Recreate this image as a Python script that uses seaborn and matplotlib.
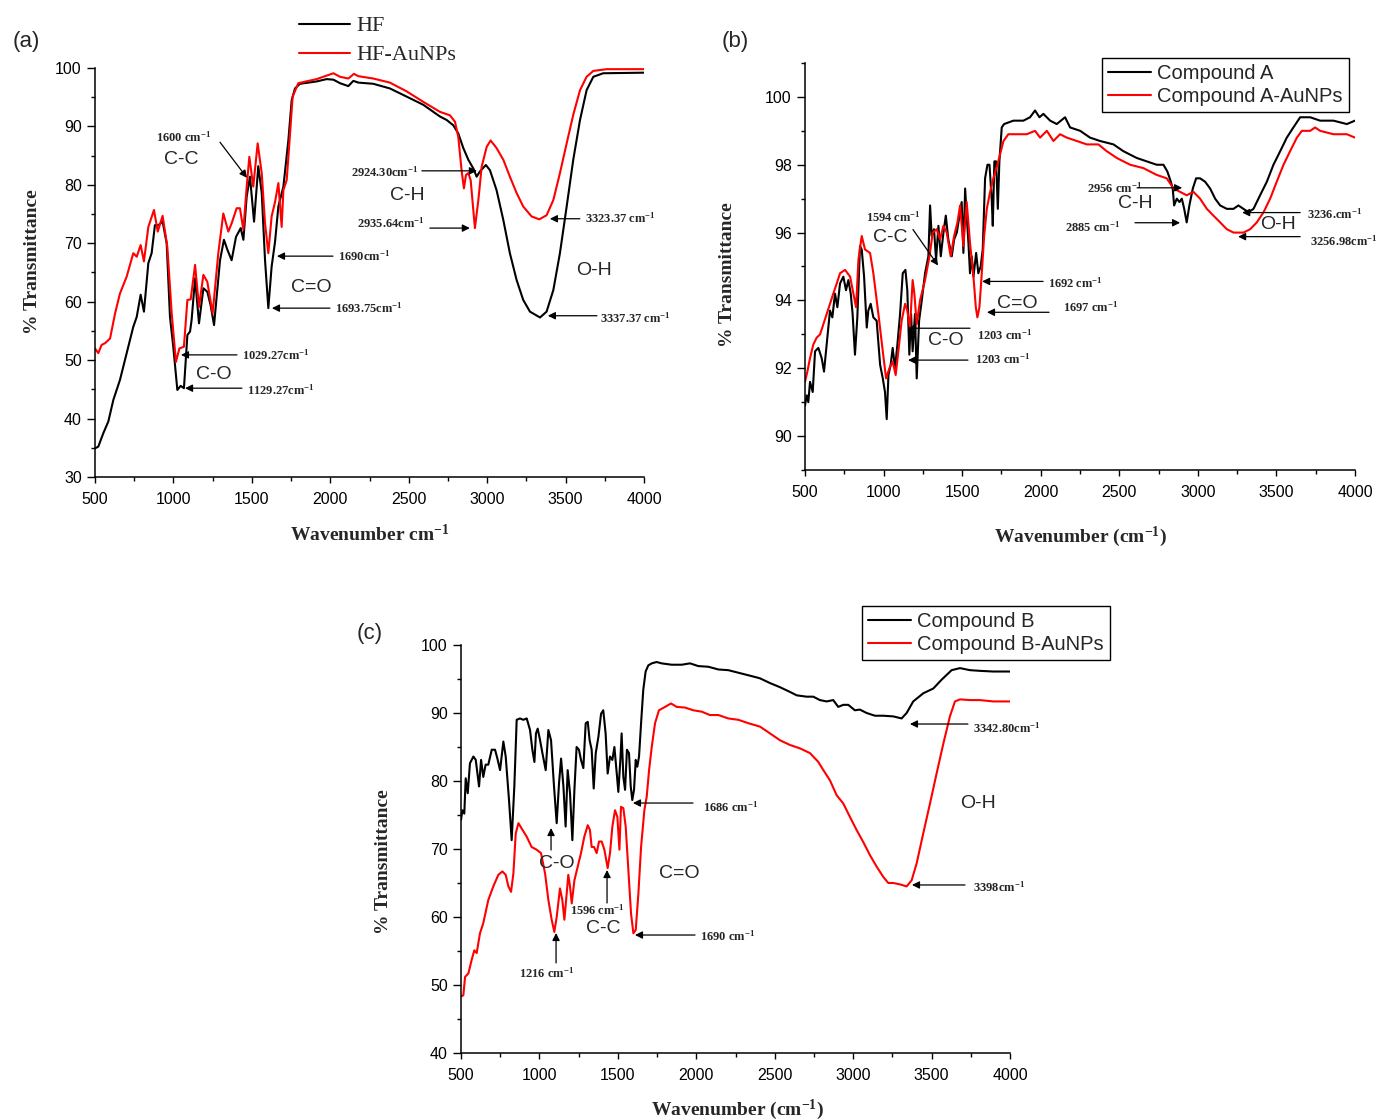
import matplotlib
matplotlib.use("Agg")
import matplotlib.pyplot as plt
from matplotlib.ticker import MultipleLocator
from matplotlib.lines import Line2D
import numpy as np
import pandas as pd
import seaborn as sns

# ---------------------------------------------------------------- spectra
# (wavenumber cm^-1, % transmittance)
HF = [(500, 34.9), (521, 35.2), (553, 37.5), (585, 39.5), (617, 43.2), (659, 46.6),
      (702, 51.2), (744, 55.7), (766, 57.4), (791, 61.2), (812, 58.3), (840, 66.6),
      (861, 68.3), (882, 73.1), (904, 73.1), (931, 73.7), (957, 70.0), (978, 57.4),
      (999, 52.3), (1025, 44.9), (1046, 45.6), (1067, 45.2), (1089, 54.3), (1106, 54.9),
      (1116, 56.9), (1138, 64.0), (1163, 56.3), (1191, 62.3), (1216, 61.7), (1237, 59.4),
      (1259, 56.0), (1297, 67.1), (1322, 70.6), (1344, 68.9), (1371, 67.1), (1399, 71.1),
      (1429, 72.6), (1446, 70.6), (1467, 78.0), (1488, 81.4), (1514, 73.7), (1541, 83.2),
      (1563, 78.6), (1584, 67.1), (1605, 58.9), (1626, 66.0), (1648, 70.3), (1669, 76.3),
      (1701, 79.7), (1733, 87.7), (1754, 94.5), (1775, 96.5), (1807, 97.3), (1913, 97.7),
      (1977, 98.1), (2020, 98.0), (2062, 97.4), (2115, 96.9), (2147, 97.8), (2179, 97.5),
      (2274, 97.3), (2380, 96.5), (2487, 95.1), (2593, 93.7), (2699, 91.7), (2742, 91.1),
      (2784, 90.2), (2816, 88.8), (2848, 86.3), (2880, 84.3), (2912, 82.8), (2933, 81.4),
      (2954, 82.3), (2992, 83.4), (3018, 82.5), (3060, 79.1), (3103, 74.0), (3145, 68.3),
      (3188, 63.7), (3230, 60.3), (3273, 58.3), (3337, 57.3), (3379, 58.3), (3422, 62.0),
      (3464, 68.3), (3507, 76.3), (3549, 84.3), (3592, 91.1), (3634, 96.2), (3677, 98.5),
      (3740, 99.1), (4000, 99.2)]

HF_AUNP = [(500, 52.0), (521, 51.2), (542, 52.6), (564, 52.9), (596, 53.7), (628, 58.0),
           (659, 61.4), (702, 64.3), (744, 68.3), (766, 67.7), (791, 69.7), (812, 66.9),
           (840, 72.8), (876, 75.7), (900, 72.0), (931, 74.7), (961, 69.4), (989, 58.0),
           (1016, 49.7), (1038, 52.0), (1067, 52.3), (1089, 60.3), (1110, 60.4), (1138, 66.3),
           (1163, 59.1), (1191, 64.6), (1216, 63.4), (1250, 58.0), (1286, 68.3), (1318, 75.1),
           (1350, 72.0), (1371, 73.4), (1403, 76.0), (1424, 76.0), (1446, 72.3), (1467, 79.7),
           (1484, 84.8), (1509, 79.7), (1537, 87.1), (1563, 82.0), (1584, 73.4), (1605, 68.3),
           (1626, 74.6), (1648, 77.1), (1669, 80.3), (1690, 72.8), (1701, 79.1), (1722, 80.8),
           (1739, 87.1), (1760, 95.1), (1796, 97.4), (1913, 98.1), (1977, 98.7), (2020, 99.1),
           (2062, 98.5), (2115, 98.2), (2151, 99.0), (2179, 98.6), (2274, 98.2), (2380, 97.5),
           (2487, 96.0), (2593, 94.2), (2699, 92.5), (2763, 91.9), (2795, 90.8), (2816, 88.2),
           (2837, 82.5), (2852, 79.4), (2865, 81.7), (2880, 82.0), (2895, 80.8), (2922, 72.6),
           (2944, 77.4), (2965, 83.1), (2997, 86.5), (3022, 87.6), (3060, 86.3), (3103, 84.3),
           (3145, 81.4), (3188, 78.6), (3230, 76.3), (3283, 74.6), (3332, 74.1), (3379, 74.8),
           (3422, 77.4), (3464, 82.0), (3507, 87.1), (3549, 92.0), (3592, 96.2), (3634, 98.5),
           (3677, 99.5), (3762, 99.8), (4000, 99.8)]

COMPOUND_A = [(500, 90.9), (511, 91.2), (521, 91.0), (532, 91.6), (549, 91.3), (564, 92.5),
              (585, 92.6), (606, 92.3), (621, 91.9), (638, 92.7), (659, 93.7), (674, 93.5),
              (691, 94.2), (706, 93.8), (723, 94.5), (744, 94.7), (761, 94.3), (776, 94.6),
              (791, 94.2), (803, 93.6), (818, 92.4), (833, 93.5), (850, 95.6), (861, 95.5),
              (876, 94.7), (893, 93.2), (903, 93.7), (918, 93.9), (935, 93.5), (956, 93.4),
              (978, 92.1), (995, 91.7), (1009, 91.3), (1020, 90.5), (1031, 91.8), (1045, 92.1),
              (1058, 92.6), (1073, 92.0), (1088, 92.7), (1105, 93.6), (1122, 94.8), (1139, 94.9),
              (1151, 94.3), (1164, 92.4), (1175, 93.6), (1185, 92.5), (1200, 93.6), (1211, 91.7),
              (1226, 93.4), (1243, 94.0), (1264, 94.8), (1285, 95.3), (1296, 96.8), (1306, 95.9),
              (1321, 96.1), (1334, 95.2), (1349, 96.2), (1364, 95.3), (1381, 96.0), (1396, 96.5),
              (1412, 95.8), (1434, 95.3), (1449, 95.8), (1466, 96.0), (1483, 96.5), (1497, 96.9),
              (1508, 95.4), (1519, 97.3), (1529, 96.5), (1540, 95.7), (1550, 94.8), (1561, 95.3),
              (1572, 94.7), (1589, 95.4), (1603, 94.8), (1618, 95.0), (1631, 95.5), (1646, 97.6),
              (1661, 98.0), (1674, 98.0), (1688, 97.0), (1695, 96.2), (1705, 98.1), (1716, 98.1),
              (1727, 96.7), (1737, 98.1), (1752, 99.1), (1767, 99.2), (1826, 99.3), (1890, 99.3),
              (1932, 99.4), (1964, 99.6), (1992, 99.4), (2017, 99.5), (2060, 99.3), (2102, 99.2),
              (2155, 99.4), (2187, 99.1), (2251, 99.0), (2314, 98.8), (2378, 98.7), (2463, 98.6),
              (2526, 98.4), (2611, 98.2), (2675, 98.1), (2738, 98.0), (2781, 98.0), (2806, 97.8),
              (2828, 97.5), (2840, 97.3), (2849, 96.8), (2866, 97.0), (2883, 96.9), (2898, 97.0),
              (2913, 96.7), (2929, 96.3), (2946, 96.8), (2968, 97.3), (2989, 97.6), (3014, 97.6),
              (3046, 97.5), (3078, 97.3), (3110, 97.0), (3142, 96.8), (3184, 96.7), (3227, 96.7),
              (3258, 96.8), (3290, 96.7), (3322, 96.6), (3354, 96.7), (3396, 97.1), (3439, 97.5),
              (3481, 98.0), (3524, 98.4), (3566, 98.8), (3608, 99.1), (3651, 99.4), (3715, 99.4),
              (3778, 99.3), (3863, 99.3), (3948, 99.2), (4000, 99.3)]

COMPOUND_A_AUNP = [(500, 91.6), (515, 91.9), (532, 92.3), (553, 92.7), (574, 92.9), (596, 93.0),
                   (617, 93.3), (638, 93.6), (659, 93.9), (680, 94.2), (702, 94.5), (723, 94.8),
                   (755, 94.9), (787, 94.7), (808, 94.2), (825, 93.8), (840, 95.2), (861, 95.9),
                   (882, 95.5), (914, 95.4), (935, 94.8), (967, 93.6), (995, 92.5), (1016, 91.7),
                   (1037, 92.0), (1058, 92.2), (1077, 91.8), (1094, 92.5), (1115, 93.4), (1137, 93.9),
                   (1151, 93.7), (1168, 93.2), (1185, 94.6), (1196, 94.2), (1211, 93.3), (1232, 94.0),
                   (1264, 94.6), (1292, 95.3), (1313, 96.0), (1338, 96.1), (1359, 95.8), (1381, 96.2),
                   (1402, 96.0), (1427, 95.3), (1449, 95.9), (1470, 96.3), (1487, 96.8), (1508, 95.6),
                   (1529, 96.9), (1550, 95.7), (1572, 94.7), (1587, 93.8), (1597, 93.5), (1610, 93.8),
                   (1625, 94.8), (1640, 95.9), (1657, 96.7), (1678, 97.2), (1699, 97.6), (1724, 98.0),
                   (1741, 98.3), (1763, 98.7), (1794, 98.9), (1848, 98.9), (1911, 98.9), (1964, 99.0),
                   (1996, 98.8), (2039, 99.0), (2081, 98.7), (2123, 98.9), (2166, 98.8), (2230, 98.7),
                   (2293, 98.6), (2367, 98.6), (2420, 98.4), (2484, 98.2), (2569, 98.0), (2654, 97.9),
                   (2738, 97.7), (2802, 97.6), (2845, 97.3), (2887, 97.2), (2929, 97.1), (2972, 97.2),
                   (3014, 97.0), (3057, 96.7), (3099, 96.5), (3142, 96.3), (3184, 96.1), (3227, 96.0),
                   (3290, 96.0), (3333, 96.1), (3375, 96.3), (3418, 96.6), (3460, 97.0), (3502, 97.5),
                   (3545, 98.0), (3587, 98.4), (3630, 98.8), (3662, 99.0), (3715, 99.0), (3746, 99.1),
                   (3778, 99.0), (3863, 98.9), (3948, 98.9), (4000, 98.8)]

COMPOUND_B = [(500, 74.3), (509, 75.7), (521, 75.2), (530, 80.4), (543, 78.2), (557, 82.6),
              (579, 83.6), (594, 83.1), (615, 79.2), (628, 83.1), (642, 80.6), (657, 82.4),
              (674, 82.4), (696, 84.6), (717, 84.6), (732, 83.3), (749, 81.6), (770, 85.8),
              (785, 83.6), (806, 77.2), (823, 71.3), (840, 79.2), (855, 89.0), (876, 89.2),
              (897, 89.0), (919, 89.2), (940, 87.5), (955, 84.6), (968, 82.8), (978, 87.0),
              (989, 87.7), (1004, 86.0), (1019, 84.1), (1040, 81.6), (1057, 87.5), (1074, 86.0),
              (1093, 79.2), (1110, 73.8), (1125, 79.7), (1138, 83.3), (1153, 79.2), (1167, 73.3),
              (1180, 81.6), (1195, 78.2), (1210, 71.3), (1223, 78.7), (1237, 85.0), (1252, 84.6),
              (1265, 83.1), (1280, 81.9), (1295, 88.5), (1308, 88.7), (1320, 86.0), (1333, 84.6),
              (1346, 78.9), (1359, 84.1), (1376, 86.5), (1393, 89.9), (1407, 90.4), (1422, 87.0),
              (1435, 81.1), (1450, 83.6), (1465, 83.1), (1478, 85.0), (1493, 81.1), (1503, 78.4),
              (1516, 83.1), (1524, 87.0), (1535, 80.6), (1546, 78.7), (1558, 84.6), (1571, 84.1),
              (1582, 79.2), (1592, 77.2), (1603, 78.7), (1614, 83.1), (1624, 82.1), (1635, 83.6),
              (1648, 88.5), (1662, 93.4), (1677, 96.1), (1694, 97.0), (1716, 97.3), (1747, 97.5),
              (1779, 97.3), (1843, 97.1), (1907, 97.1), (1960, 97.3), (2013, 96.9), (2077, 96.8),
              (2141, 96.4), (2204, 96.3), (2289, 95.8), (2374, 95.3), (2406, 95.1), (2470, 94.4),
              (2533, 93.8), (2597, 93.1), (2640, 92.6), (2703, 92.4), (2746, 92.4), (2788, 91.9),
              (2831, 91.7), (2873, 91.9), (2905, 90.9), (2937, 91.2), (2969, 91.2), (3011, 90.4),
              (3043, 90.5), (3086, 90.0), (3139, 89.6), (3192, 89.6), (3256, 89.5), (3309, 89.2),
              (3341, 90.0), (3383, 91.7), (3447, 92.9), (3511, 93.6), (3564, 94.9), (3628, 96.3),
              (3681, 96.6), (3745, 96.3), (3808, 96.2), (3893, 96.1), (4000, 96.1)]

COMPOUND_B_AUNP = [(500, 48.3), (515, 48.5), (526, 51.2), (547, 51.7), (568, 53.7), (585, 55.1),
                   (600, 54.7), (621, 57.6), (642, 59.1), (674, 62.5), (706, 64.5), (738, 66.2),
                   (764, 66.7), (785, 66.2), (802, 64.5), (819, 63.7), (834, 66.4), (849, 72.3),
                   (866, 73.8), (887, 73.0), (919, 71.8), (950, 70.3), (982, 69.9), (1010, 69.4),
                   (1036, 66.4), (1057, 62.5), (1078, 59.6), (1095, 57.8), (1110, 60.0), (1131, 64.2),
                   (1146, 62.5), (1159, 59.6), (1174, 63.5), (1184, 66.2), (1195, 64.5), (1206, 62.0),
                   (1223, 65.4), (1244, 67.4), (1265, 69.4), (1286, 71.8), (1308, 73.5), (1322, 72.8),
                   (1333, 70.3), (1348, 70.3), (1365, 69.4), (1380, 71.1), (1397, 71.1), (1414, 69.9),
                   (1435, 67.2), (1450, 69.4), (1465, 73.3), (1482, 75.7), (1497, 74.7), (1510, 69.9),
                   (1520, 76.2), (1535, 76.0), (1550, 73.3), (1567, 66.9), (1584, 60.5), (1599, 57.6),
                   (1614, 58.1), (1631, 63.5), (1648, 70.3), (1669, 75.7), (1684, 77.7), (1699, 81.6),
                   (1716, 85.0), (1737, 88.5), (1762, 90.4), (1801, 90.9), (1839, 91.4), (1875, 90.9),
                   (1928, 90.8), (1981, 90.4), (2034, 90.2), (2087, 89.7), (2141, 89.7), (2204, 89.2),
                   (2268, 89.0), (2332, 88.5), (2406, 88.0), (2470, 87.0), (2533, 86.0), (2597, 85.3),
                   (2661, 84.8), (2725, 84.1), (2778, 82.8), (2810, 81.6), (2852, 80.1), (2895, 77.9),
                   (2937, 76.7), (2980, 74.7), (3022, 72.8), (3065, 71.0), (3107, 69.1), (3150, 67.4),
                   (3192, 65.9), (3224, 65.0), (3256, 65.0), (3298, 64.8), (3341, 64.5), (3373, 65.4),
                   (3405, 67.9), (3447, 72.3), (3490, 76.7), (3532, 81.1), (3575, 85.5), (3617, 89.5),
                   (3649, 91.7), (3681, 92.0), (3745, 91.9), (3808, 91.9), (3893, 91.7), (4000, 91.7)]

# legend labels per panel
LABELS_A = ["HF", "HF-AuNPs"]
LABELS_B = ["Compound A", "Compound A-AuNPs"]
LABELS_C = ["Compound B", "Compound B-AuNPs"]

# ---------------------------------------------------------------- style
sns.set_style("ticks")
plt.rcParams.update({
    "font.family": ["Liberation Sans", "DejaVu Sans"],
    "mathtext.fontset": "custom",
    "mathtext.rm": "Liberation Serif",
    "mathtext.it": "Liberation Serif:italic",
    "mathtext.bf": "Liberation Serif:bold",
    "axes.linewidth": 1.1,
    "xtick.direction": "out",
    "ytick.direction": "out",
    "xtick.major.size": 4.5,
    "ytick.major.size": 5.5,
    "xtick.minor.size": 3.0,
    "ytick.minor.size": 3.0,
    "xtick.major.width": 1.0,
    "ytick.major.width": 1.0,
    "xtick.minor.width": 1.0,
    "ytick.minor.width": 1.0,
    "xtick.labelsize": 11.5,
    "ytick.labelsize": 11.5,
    "xtick.major.pad": 6.0,
    "ytick.major.pad": 4.0,
    "xtick.color": "black",
    "ytick.color": "black",
    "axes.edgecolor": "black",
})

SERIF = ["Liberation Serif", "DejaVu Serif"]
SANS = ["Liberation Sans", "DejaVu Sans"]
COLORS = ["#000000", "#ff0000"]

fig = plt.figure(figsize=(13.8, 11.2), dpi=100)
W, H = 1380.0, 1120.0


def box(left, top, right, bottom):
    return [left / W, 1 - bottom / H, (right - left) / W, (bottom - top) / H]


def spectrum_frame(pairs_list, labels):
    frames = []
    for pairs, lab in zip(pairs_list, labels):
        arr = np.asarray(pairs, dtype=float)
        frames.append(pd.DataFrame({"wn": arr[:, 0], "T": arr[:, 1], "sample": lab}))
    return pd.concat(frames, ignore_index=True)


def draw_panel(ax, pairs_list, labels, ylim, ymajor, yminor):
    df = spectrum_frame(pairs_list, labels)
    sns.lineplot(data=df, x="wn", y="T", hue="sample", palette=COLORS,
                 estimator=None, sort=False, linewidth=1.5, legend=False, ax=ax)
    ax.set_xlim(500, 4000)
    ax.set_ylim(*ylim)
    ax.xaxis.set_major_locator(MultipleLocator(500))
    ax.xaxis.set_minor_locator(MultipleLocator(250))
    ax.yaxis.set_major_locator(MultipleLocator(ymajor))
    ax.yaxis.set_minor_locator(MultipleLocator(yminor))
    sns.despine(ax=ax)


def arrow(ax, head, tail):
    ax.annotate("", xy=head, xytext=tail,
                arrowprops=dict(arrowstyle="-|>", color="black", lw=0.9,
                                mutation_scale=11, shrinkA=0, shrinkB=0))


def peak(ax, x, y, txt, ha="left"):
    ax.text(x, y, txt + r"$^{\mathbf{-1}}$", family=SERIF, fontweight="bold",
            fontsize=9, ha=ha, va="center")


def group(ax, x, y, txt):
    ax.text(x, y, txt, family=SANS, fontsize=14, ha="center", va="center")


def ylab(ax, xfrac, yfrac):
    ax.set_ylabel("% Transmittance", family=SERIF, fontweight="bold", fontsize=14)
    ax.yaxis.set_label_coords(xfrac, yfrac)


def box_legend(ax, labels, left, top):
    handles = [Line2D([], [], color=c, lw=1.5) for c in COLORS]
    leg = ax.legend(handles, labels, loc="upper left", bbox_to_anchor=(left / W, 1 - top / H),
                    bbox_transform=fig.transFigure, frameon=True, fancybox=False,
                    edgecolor="black", framealpha=1, borderaxespad=0, borderpad=0.3,
                    handlelength=2.15, handletextpad=0.3, labelspacing=0.2,
                    prop={"family": SANS, "size": 14.5})
    leg.get_frame().set_linewidth(1.0)


# ---------------------------------------------------------------- (a)
axa = fig.add_axes(box(95, 68, 644, 477))
draw_panel(axa, [HF, HF_AUNP], LABELS_A, (30, 100), 10, 5)
axa.set_xlabel(r"Wavenumber cm$^{\mathbf{-1}}$", family=SERIF, fontweight="bold", fontsize=14)
axa.xaxis.set_label_coords(0.5, -0.115)
ylab(axa, -0.098, 0.526)

peak(axa, 1067, 88.2, "1600 cm", ha="center")
arrow(axa, (1469, 81.2), (1297, 87.3))
group(axa, 1048, 84.4, "C-C")
peak(axa, 2049, 67.8, "1690cm")
arrow(axa, (1660, 67.8), (2017, 67.8))
group(axa, 1877, 62.5, "C=O")
peak(axa, 2030, 58.9, "1693.75cm")
arrow(axa, (1628, 58.9), (1998, 58.9))
peak(axa, 1437, 50.9, "1029.27cm")
arrow(axa, (1048, 50.9), (1405, 50.9))
group(axa, 1259, 47.6, "C-O")
peak(axa, 1469, 44.9, "1129.27cm")
arrow(axa, (1074, 45.2), (1437, 45.2))
peak(axa, 2559, 82.2, "2924.30cm", ha="right")
arrow(axa, (2935, 82.4), (2584, 82.4))
group(axa, 2489, 78.1, "C-H")
peak(axa, 2603, 73.5, "2935.64cm", ha="right")
arrow(axa, (2890, 72.6), (2635, 72.6))
peak(axa, 3623, 74.3, "3323.37 cm")
arrow(axa, (3400, 74.2), (3591, 74.2))
group(axa, 3681, 65.4, "O-H")
peak(axa, 3719, 57.2, "3337.37 cm")
arrow(axa, (3387, 57.6), (3700, 57.6))

handles = [Line2D([], [], color=c, lw=1.5) for c in COLORS]
axa.legend(handles, LABELS_A, loc="upper left", bbox_to_anchor=(290 / W, 1 - 7 / H),
           bbox_transform=fig.transFigure, frameon=False, borderaxespad=0,
           handlelength=2.3, handletextpad=0.3, labelspacing=0.38,
           prop={"family": SERIF, "size": 16})
fig.text(13 / W, 1 - 42 / H, "(a)", family=SANS, fontsize=16, va="center")

# ---------------------------------------------------------------- (b)
axb = fig.add_axes(box(805, 63, 1355, 470))
draw_panel(axb, [COMPOUND_A, COMPOUND_A_AUNP], LABELS_B, (89, 101), 2, 1)
axb.set_xlabel(r"Wavenumber (cm$^{\mathbf{-1}}$)", family=SERIF, fontweight="bold", fontsize=14)
axb.xaxis.set_label_coords(0.5, -0.135)
ylab(axb, -0.125, 0.479)

peak(axb, 1060, 96.44, "1594 cm", ha="center")
arrow(axb, (1347, 95.03), (1187, 96.09))
group(axb, 1041, 95.85, "C-C")
peak(axb, 2047, 94.5, "1692 cm")
arrow(axb, (1627, 94.56), (2015, 94.56))
group(axb, 1849, 93.91, "C=O")
peak(axb, 2142, 93.79, "1697 cm")
arrow(axb, (1658, 93.65), (2053, 93.65))
peak(axb, 1595, 92.97, "1203 cm")
arrow(axb, (1156, 93.18), (1550, 93.18))
group(axb, 1397, 92.82, "C-O")
peak(axb, 1582, 92.26, "1203 cm")
arrow(axb, (1156, 92.24), (1537, 92.24))
peak(axb, 2295, 97.32, "2956 cm")
arrow(axb, (2900, 97.32), (2613, 97.32))
group(axb, 2600, 96.85, "C-H")
peak(axb, 2505, 96.15, "2885 cm", ha="right")
arrow(axb, (2887, 96.29), (2600, 96.29))
peak(axb, 3695, 96.53, "3236.cm")
arrow(axb, (3282, 96.59), (3651, 96.59))
group(axb, 3511, 96.24, "O-H")
peak(axb, 3712, 95.74, "3256.98cm")
arrow(axb, (3256, 95.88), (3651, 95.88))

box_legend(axb, LABELS_B, 1102, 58)
fig.text(722 / W, 1 - 42 / H, "(b)", family=SANS, fontsize=16, va="center")

# ---------------------------------------------------------------- (c)
axc = fig.add_axes(box(461, 645, 1010, 1053))
draw_panel(axc, [COMPOUND_B, COMPOUND_B_AUNP], LABELS_C, (40, 100), 10, 5)
axc.set_xlabel(r"Wavenumber (cm$^{\mathbf{-1}}$)", family=SERIF, fontweight="bold", fontsize=14)
axc.xaxis.set_label_coords(0.503, -0.11)
ylab(axc, -0.125, 0.468)

group(axc, 1112, 67.94, "C-O")
arrow(axc, (1074, 73.09), (1074, 69.85))
peak(axc, 1367, 61.03, "1596 cm", ha="center")
arrow(axc, (1431, 66.91), (1431, 62.06))
group(axc, 1405, 58.24, "C-C")
peak(axc, 1048, 51.76, "1216 cm", ha="center")
arrow(axc, (1106, 57.65), (1106, 53.24))
group(axc, 1890, 66.47, "C=O")
peak(axc, 2042, 76.18, "1686 cm")
arrow(axc, (1596, 76.76), (1979, 76.76))
peak(axc, 2023, 57.21, "1690 cm")
arrow(axc, (1609, 57.35), (1992, 57.35))
peak(axc, 3764, 87.79, "3342.80cm")
arrow(axc, (3362, 88.38), (3732, 88.38))
group(axc, 3795, 76.76, "O-H")
peak(axc, 3764, 64.41, "3398cm")
arrow(axc, (3375, 64.71), (3713, 64.71))

box_legend(axc, LABELS_C, 862, 606)
fig.text(357 / W, 1 - 633 / H, "(c)", family=SANS, fontsize=16, va="center")

fig.savefig("out.png", dpi=100, facecolor="white")
